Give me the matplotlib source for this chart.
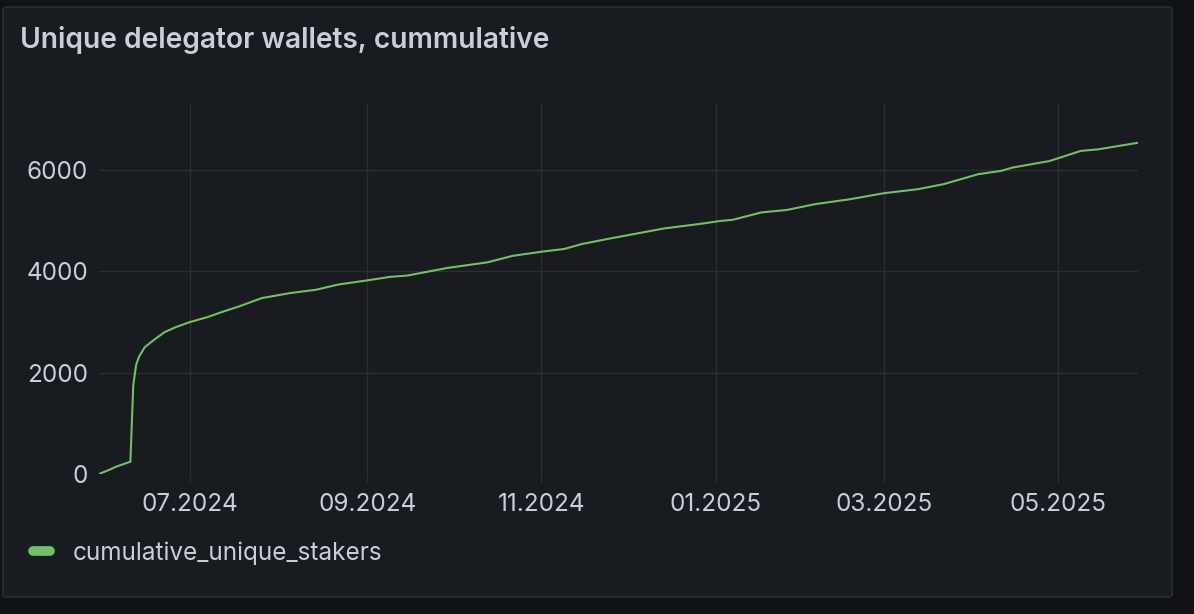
import matplotlib
matplotlib.use('Agg')
import matplotlib.pyplot as plt
import matplotlib.dates as mdates
from matplotlib.patches import FancyBboxPatch
from matplotlib.lines import Line2D
import numpy as np

# cumulative unique stakers
dates = ['2024-05-30', '2024-06-03', '2024-06-05', '2024-06-10', '2024-06-11',
         '2024-06-12', '2024-06-13', '2024-06-15', '2024-06-18', '2024-06-22',
         '2024-06-26', '2024-07-01', '2024-07-07', '2024-07-12', '2024-07-18',
         '2024-07-26', '2024-08-05', '2024-08-14', '2024-08-22', '2024-09-01',
         '2024-09-09', '2024-09-15', '2024-09-29', '2024-10-13', '2024-10-22',
         '2024-11-01', '2024-11-09', '2024-11-15', '2024-11-24', '2024-12-03',
         '2024-12-14', '2024-12-26', '2025-01-03', '2025-01-07', '2025-01-17',
         '2025-01-26', '2025-02-05', '2025-02-17', '2025-03-01', '2025-03-13',
         '2025-03-22', '2025-03-30', '2025-04-03', '2025-04-11', '2025-04-15',
         '2025-04-28', '2025-05-09', '2025-05-15', '2025-05-29']
stakers = [0, 92, 145, 243, 1750,
           2150, 2310, 2500, 2635, 2800,
           2900, 3000, 3095, 3195, 3305,
           3470, 3570, 3635, 3740, 3820,
           3890, 3915, 4065, 4175, 4305,
           4385, 4440, 4535, 4635, 4730,
           4845, 4930, 4995, 5015, 5160,
           5210, 5325, 5420, 5540, 5620,
           5720, 5850, 5915, 5980, 6045,
           6175, 6375, 6405, 6535]
yticks = [0, 2000, 4000, 6000]

title = 'Unique delegator wallets, cummulative'
series_name = 'cumulative_unique_stakers'

BG = '#111217'
PANEL = '#181b1f'
TEXT = '#ccccdc'
GRID = '#2c2e35'
GREEN = '#73bf69'

plt.rcParams['font.family'] = ['Inter', 'DejaVu Sans']

W, H = 1194, 614
fig = plt.figure(figsize=(W / 100, H / 100), dpi=100, facecolor=BG)

# panel box, kept behind the axes
panel = FancyBboxPatch((3 / W, 1 - 597 / H), 1169 / W, 590 / H,
                       boxstyle='round,pad=0,rounding_size=0.004',
                       transform=fig.transFigure, facecolor=PANEL,
                       edgecolor='#2a2d33', linewidth=1.2, zorder=-10)
fig.add_artist(panel)

fig.text(20 / W, 1 - 40 / H, title, color=TEXT, fontsize=20.3,
         fontweight='semibold', va='center', ha='left')

left, right, top, bottom = 99, 1138, 104, 474
ax = fig.add_axes([left / W, 1 - bottom / H, (right - left) / W, (bottom - top) / H])
ax.set_facecolor(PANEL)

x = np.array(dates, dtype='datetime64[D]')
ax.plot(x, stakers, color=GREEN, lw=1.5)

ax.set_xlim(x[0], x[-1])
ax.set_ylim(0, 7300)
ax.set_yticks(yticks)
ax.xaxis.set_major_locator(mdates.MonthLocator(bymonth=[1, 3, 5, 7, 9, 11]))
ax.xaxis.set_major_formatter(mdates.DateFormatter('%m.%Y'))

ax.grid(True, color=GRID, lw=1)
for s in ax.spines.values():
    s.set_visible(False)
ax.tick_params(axis='x', colors=TEXT, labelsize=17.5, length=6, width=1,
               color=GRID, pad=8)
ax.tick_params(axis='y', colors=TEXT, labelsize=17.5, length=0, pad=8)

handle = Line2D([], [], color=GREEN, lw=7, solid_capstyle='round')
fig.legend([handle], [series_name], loc='center left',
           bbox_to_anchor=(33 / W, 1 - 553 / H), frameon=False,
           fontsize=17.5, labelcolor=TEXT, handlelength=0.7, handletextpad=0.95,
           borderaxespad=0, borderpad=0)

fig.savefig('out.png', dpi=100, facecolor=BG)
